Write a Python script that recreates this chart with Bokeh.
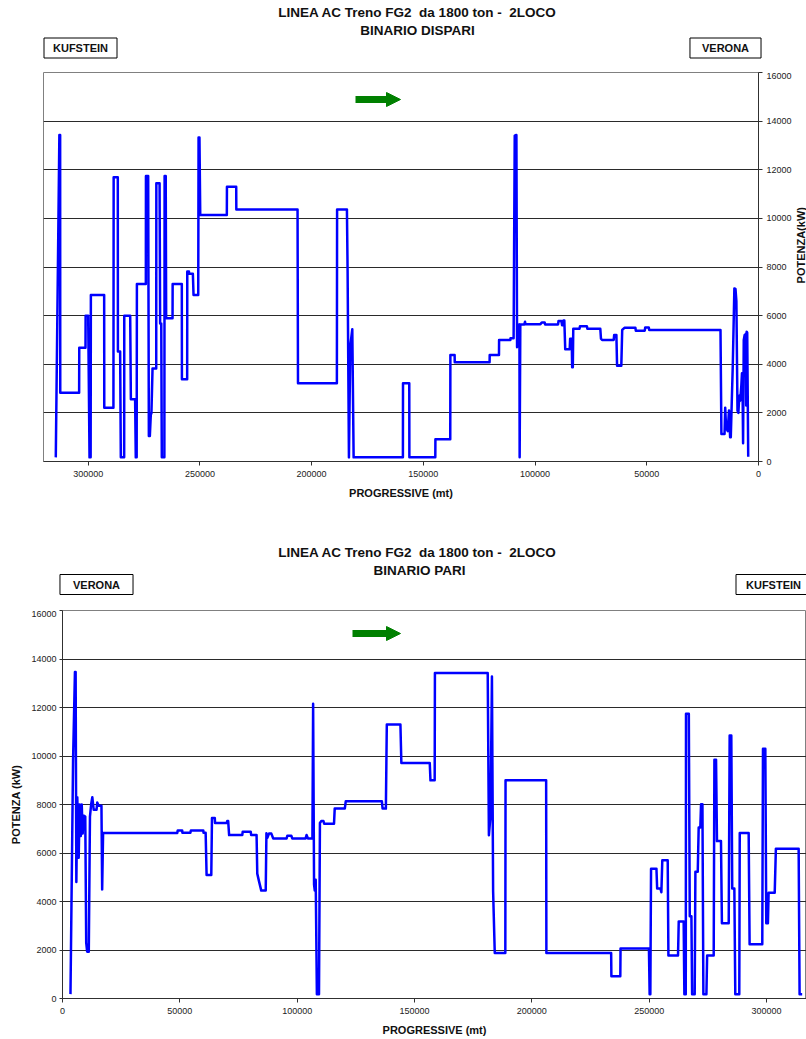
import math
from bokeh.plotting import figure
from bokeh.models import Range1d, FixedTicker, NumeralTickFormatter, Label, Arrow, NormalHead
from bokeh.layouts import column, row
from bokeh.embed import file_html
from bokeh.resources import INLINE

FONT = "Liberation Sans"
NBSP = "\u00a0"

# ---------------- texts ----------------
title_line1 = "LINEA AC Treno FG2 " + NBSP + "da 1800 ton - " + NBSP + "2LOCO"
dispari_title = "BINARIO DISPARI"
pari_title = "BINARIO PARI"
x_axis_label = "PROGRESSIVE (mt)"
dispari_y_label = "POTENZA(kW)"
pari_y_label = "POTENZA (kW)"
station_north = "KUFSTEIN"
station_south = "VERONA"

# ---------------- ticks ----------------
y_ticks = [0, 2000, 4000, 6000, 8000, 10000, 12000, 14000, 16000]
x_ticks = [0, 50000, 100000, 150000, 200000, 250000, 300000]

# ---------------- BINARIO DISPARI (progressive in mt, power in kW) ----------------
dispari_mt = [314500, 312900, 312550, 312500, 304050, 304000, 301200, 301150, 300000, 299400,
              298900, 298800, 292850, 292800, 288700, 288600, 286750, 286700, 285700, 285400,
              283900, 283850, 281200, 280900, 279000, 278700, 278300, 278200, 274200, 274150,
              273150, 272850, 272400, 271950, 271700, 271200, 269550, 269500, 268050, 267800,
              267300, 267050, 265900, 265800, 265300, 265100, 262250, 262200, 258100, 258050,
              255700, 255650, 254900, 254850, 253150, 252850, 250750, 250600, 250200, 249850,
              237950, 237900, 233750, 233700, 206300, 206100, 188700, 188600, 184200, 183900,
              183300, 182700, 181800, 181200, 159150, 159100, 156300, 156250, 144650, 144600,
              137950, 137900, 136000, 135950, 120350, 120300, 116150, 116100, 111050, 111000,
              109600, 109100, 108350, 108050, 107000, 106900, 106600, 104800, 104500, 104300,
              97600, 97000, 95700, 95500, 89700, 89500, 88200, 87900, 87600, 87300,
              86900, 86500, 84500, 84300, 83600, 83400, 83100, 82900, 80100, 79900,
              76800, 76600, 70800, 70500, 70000, 64800, 64600, 63600, 63300, 61400,
              61000, 60000, 55100, 54900, 50900, 50700, 49100, 48900, 17010, 16600,
              15200, 14900, 14500, 13800, 13200, 12700, 12400, 11500, 10800, 10300,
              9900, 9400, 9000, 8600, 8200, 7700, 7400, 7200, 6900, 6600,
              6200, 5900, 5700, 5500, 5300, 5050, 4600]
dispari_kw = [170, 13430, 13430, 2830, 2830, 4680, 4680, 5990, 5990, 170,
              170, 6850, 6850, 2215, 2215, 11690, 11690, 4520, 4520, 170,
              170, 5990, 5990, 2560, 2560, 170, 170, 7300, 7300, 11740,
              11740, 1050, 1050, 1980, 1980, 3830, 3830, 11440, 11440, 5680,
              5680, 170, 170, 11740, 11740, 5890, 5890, 7300, 7300, 3380,
              3380, 7810, 7810, 7720, 7720, 6850, 6850, 13330, 13330, 10140,
              10140, 11300, 11300, 10370, 10370, 3215, 3215, 10370, 10370, 7850,
              170, 4740, 5440, 170, 170, 3215, 3215, 170, 170, 913,
              913, 4380, 4380, 4080, 4080, 4380, 4380, 5000, 5000, 5070,
              5070, 13400, 13430, 4700, 5640, 170, 5640, 5640, 5750, 5650,
              5650, 5720, 5720, 5640, 5640, 5780, 5780, 5600, 5600, 5800,
              5800, 4620, 4620, 5050, 5050, 3875, 3875, 5460, 5460, 5560,
              5560, 5460, 5460, 5050, 5000, 5000, 5200, 5200, 3940, 3940,
              5410, 5500, 5500, 5380, 5380, 5510, 5510, 5410, 5410, 1130,
              1130, 2215, 1400, 1250, 2100, 1000, 1000, 4000, 7120, 7100,
              6600, 2100, 2000, 2700, 2500, 3100, 3630, 3600, 750, 5000,
              5200, 5100, 5250, 2300, 5340, 5300, 200]

# ---------------- BINARIO PARI (progressive in mt, power in kW) ----------------
pari_mt = [3400, 4500, 5300, 5600, 5900, 6300, 6900, 7300, 7800, 8200,
           8600, 9000, 9700, 10100, 10500, 11200, 11700, 12200, 12700, 13300,
           14500, 14800, 15400, 16600, 16900, 17300, 48900, 49100, 51000, 51100,
           54500, 54700, 60000, 60100, 61000, 61400, 63400, 63700, 64900, 65000,
           70000, 70200, 70600, 71000, 76600, 76800, 80200, 80400, 82700, 83000,
           83700, 84700, 86600, 86900, 87300, 88000, 89000, 89800, 95500, 95800,
           97500, 97900, 103600, 104000, 104600, 106500, 106800, 107200, 107500, 107900,
           108400, 109300, 109700, 110300, 111200, 111500, 115700, 116000, 120300, 120700,
           136100, 136400, 137800, 138200, 144000, 144400, 156500, 156800, 158600, 158700,
           181200, 181700, 182400, 183000, 183500, 184200, 188700, 188800, 206100, 206200,
           233800, 233900, 237700, 237800, 249900, 250200, 250500, 250800, 253100, 253400,
           254800, 255200, 255600, 257900, 258200, 262300, 262600, 264700, 265000, 265600,
           265700, 266900, 267300, 268000, 268300, 269400, 269700, 270700, 271100, 271800,
           272100, 272700, 273100, 274400, 274700, 277500, 277800, 278500, 278900, 280600,
           281000, 283900, 284300, 285000, 285400, 286300, 286700, 288400, 288600, 292400,
           292800, 298200, 298500, 299500, 299900, 300600, 300900, 303500, 304000, 313700,
           314100, 315200]
pari_kw = [180, 9800, 13460, 13460, 4800, 8300, 5800, 8000, 6700, 8000,
           6800, 7540, 7500, 2300, 1930, 1930, 7500, 8000, 8300, 7780,
           7780, 8080, 7950, 7950, 4500, 6825, 6825, 6930, 6930, 6830,
           6830, 6930, 6930, 6830, 6830, 5090, 5090, 7440, 7440, 7240,
           7240, 7320, 7320, 6740, 6740, 6880, 6880, 6740, 6740, 5150,
           4850, 4450, 4450, 6810, 6630, 6800, 6800, 6600, 6600, 6710,
           6710, 6600, 6600, 6740, 6600, 6600, 12150, 4700, 4450, 4900,
           180, 180, 7240, 7320, 7320, 7210, 7210, 7830, 7830, 8130,
           8130, 7830, 7830, 11300, 11300, 9710, 9710, 8995, 8995, 13420,
           13420, 6730, 7550, 13280, 4420, 1880, 1880, 8995, 8995, 1880,
           1880, 920, 920, 2060, 2060, 180, 180, 5355, 5355, 4540,
           4540, 4380, 5700, 5700, 1770, 1770, 3180, 3180, 180, 180,
           11740, 11740, 3390, 3390, 180, 180, 5230, 5230, 7050, 7050,
           8010, 8010, 180, 180, 1770, 1770, 9850, 9850, 6490, 6490,
           3100, 3100, 10850, 10850, 4540, 4540, 180, 180, 6825, 6825,
           2240, 2240, 10300, 10300, 3100, 3100, 4360, 4360, 6180, 6180,
           180, 180]

LINE_COLOR = "#0000FF"
ARROW_COLOR = "#008000"
PAGE_W = 806


def style_axes(p):
    for ax in list(p.xaxis) + list(p.yaxis):
        ax.major_label_text_font = FONT
        ax.major_label_text_font_size = "9px"
        ax.major_label_text_color = "#222222"
        ax.axis_line_color = "#303030"
        ax.major_tick_line_color = "#303030"
        ax.major_tick_in = 0
        ax.major_tick_out = 4
        ax.minor_tick_line_color = None
        ax.major_label_standoff = 5
        ax.axis_label_text_font = FONT
        ax.axis_label_text_font_size = "11px"
        ax.axis_label_text_font_style = "bold"
        ax.axis_label_text_color = "#111111"
    p.xaxis.ticker = FixedTicker(ticks=x_ticks)
    p.yaxis.ticker = FixedTicker(ticks=y_ticks)
    p.xaxis.formatter = NumeralTickFormatter(format="0")
    p.yaxis.formatter = NumeralTickFormatter(format="0")
    p.xaxis.axis_label = x_axis_label
    p.xaxis.axis_label_standoff = 7
    p.xgrid.visible = False
    p.ygrid.ticker = FixedTicker(ticks=y_ticks)
    p.ygrid.grid_line_color = "#2a2a2a"
    p.ygrid.grid_line_width = 1


def blank(width, height, x0, x1, ytop, ybottom):
    """Axis-less figure whose data coordinates equal page pixel coordinates."""
    f = figure(width=width, height=height, x_range=Range1d(x0, x1),
               y_range=Range1d(ybottom, ytop), x_axis_type=None, y_axis_type=None,
               output_backend="svg", toolbar_location=None,
               min_border_left=0, min_border_right=0, min_border_top=0, min_border_bottom=0,
               background_fill_color="white", border_fill_color="white",
               outline_line_color=None)
    f.xgrid.visible = False
    f.ygrid.visible = False
    return f


def add_text(f, x, y, text, size, angle=0.0, box=None):
    kw = {}
    if box is not None:
        kw = dict(border_line_color="#000000", border_line_width=1,
                  background_fill_color="white",
                  padding=dict(left=box[0], right=box[0], top=box[1], bottom=box[1]))
    f.add_layout(Label(x=x, y=y, text=text, text_font=FONT, text_font_size=size,
                       text_font_style="bold", text_color="#111111",
                       text_align="center", text_baseline="middle", angle=angle, **kw))


def add_arrow(p, fw, fh, px0, px1, py):
    xr, yr = p.x_range, p.y_range
    x0 = xr.start + (xr.end - xr.start) * px0 / fw
    x1 = xr.start + (xr.end - xr.start) * px1 / fw
    y0 = yr.end - (yr.end - yr.start) * py / fh
    p.add_layout(Arrow(end=NormalHead(size=14, fill_color=ARROW_COLOR, line_color=ARROW_COLOR),
                       x_start=x0, y_start=y0, x_end=x1, y_end=y0,
                       line_color=ARROW_COLOR, line_width=7))


# ---------------- top block: BINARIO DISPARI ----------------
h1 = blank(PAGE_W, 72, 0, PAGE_W, 0, 72)
add_text(h1, 417, 12, title_line1, "13.5px")
add_text(h1, 417, 30, dispari_title, "13.5px")
add_text(h1, 80, 47.5, station_north, "11px", box=(9, 4))
add_text(h1, 725, 47.5, station_south, "11px", box=(12, 4))

FW1, FH1 = 715, 389
SIDE_W = 12
p1 = figure(width=PAGE_W - SIDE_W, height=438,
            x_range=Range1d(320000, 0), y_range=Range1d(0, 16000),
            y_axis_location="right", output_backend="svg", toolbar_location=None,
            min_border_left=43, min_border_right=PAGE_W - SIDE_W - 43 - FW1,
            min_border_top=0, min_border_bottom=49,
            background_fill_color="white", border_fill_color="white",
            outline_line_color="#808080")
style_axes(p1)
p1.yaxis.major_label_standoff = 4
p1.line(dispari_mt, dispari_kw, line_color=LINE_COLOR, line_width=2.5, line_join="round")
add_arrow(p1, FW1, FH1, 312, 357, 27)

side1 = blank(SIDE_W, 438, PAGE_W - SIDE_W, PAGE_W, 72, 510)
add_text(side1, 800.5, 266.5, dispari_y_label, "11px", angle=math.pi / 2)

# ---------------- bottom block: BINARIO PARI ----------------
h2 = blank(PAGE_W, 100, 0, PAGE_W, 510, 610)
add_text(h2, 417, 552, title_line1, "13.5px")
add_text(h2, 419, 570, pari_title, "13.5px")
add_text(h2, 96, 584, station_south, "11px", box=(13, 4))
add_text(h2, 773, 584, station_north, "11px", box=(10, 4))

FW2, FH2 = 744, 388
p2 = figure(width=PAGE_W, height=429,
            x_range=Range1d(0, FW2 * 300000 / 704), y_range=Range1d(0, 16000),
            output_backend="svg", toolbar_location=None,
            min_border_left=62, min_border_right=0, min_border_top=0, min_border_bottom=41,
            background_fill_color="white", border_fill_color="white",
            outline_line_color="#808080")
style_axes(p2)
p2.yaxis.major_tick_out = 3
p2.yaxis.major_label_standoff = 3
p2.yaxis.axis_label = pari_y_label
p2.yaxis.axis_label_standoff = 6
p2.line(pari_mt, pari_kw, line_color=LINE_COLOR, line_width=2.5, line_join="round")
add_arrow(p2, FW2, FH2, 290, 338, 23)

# each block in its own row so that the column does not align the frames
layout = column(row(h1), row(p1, side1), row(h2), row(p2))
open("out.html", "w").write(file_html(layout, INLINE))
